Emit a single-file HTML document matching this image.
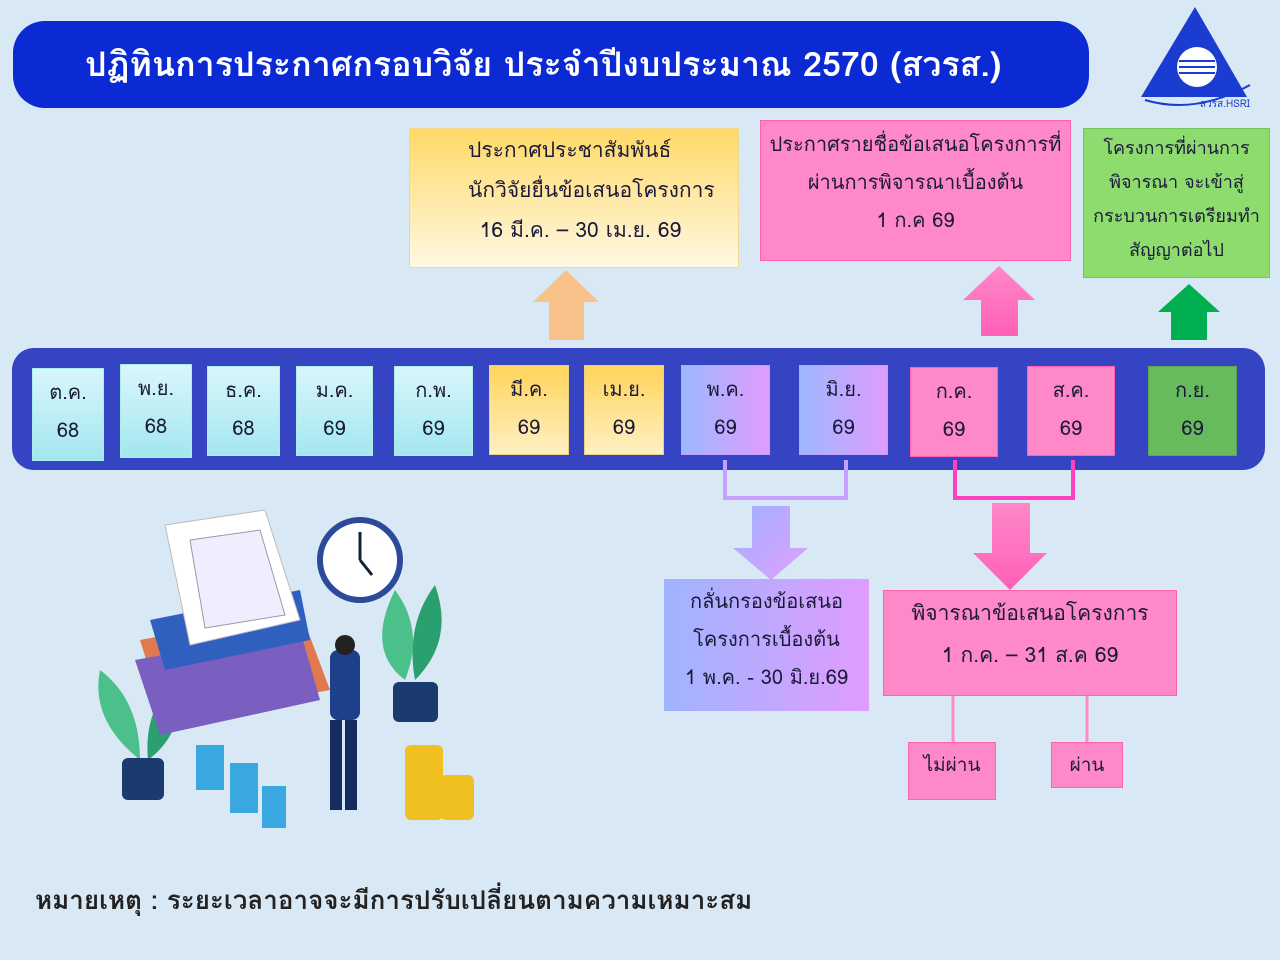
<!DOCTYPE html>
<html><head><meta charset="utf-8">
<style>
body{margin:0;width:1280px;height:960px;background:#d9e8f5;position:relative;overflow:hidden;font-family:"Tahoma","Garuda","Loma","Noto Sans Thai","DejaVu Sans","Liberation Sans",sans-serif;color:#1a1a3a}
.a{position:absolute}
.title{left:13px;top:21px;width:1076px;height:87px;background:#0c2ad4;border-radius:32px;color:#fff;font-size:34px;line-height:87px;box-sizing:border-box;padding-left:72px;font-weight:600}
.band{left:12px;top:348px;width:1253px;height:122px;background:#3544c2;border-radius:22px}
.m{position:absolute;text-align:center;font-size:20px;line-height:38px;padding-top:4px;box-sizing:border-box;border:1px solid #aee}
.cy{background:linear-gradient(#d8f7fb,#a4e6ef)}
.ye{background:linear-gradient(#ffd45a,#fff0c4);border-color:#f0d080}
.pu{background:linear-gradient(90deg,#9db8ff,#e09cff);border-color:#c0a0ff}
.pk{background:#ff88c8;border-color:#ff60b0}
.gr{background:#68bb5c;border-color:#5aa850}
.box{position:absolute;text-align:center;box-sizing:border-box}
</style></head><body>
<div class="a title">ปฏิทินการประกาศกรอบวิจัย ประจำปีงบประมาณ 2570 (สวรส.)</div>
<svg class="a" style="left:1135px;top:5px" width="120" height="110">
<polygon points="60,2 112,92 6,92" fill="#1a3cd0"/>
<circle cx="62" cy="62" r="20" fill="#fff"/>
<g stroke="#1a3cd0" stroke-width="2"><line x1="44" y1="56" x2="80" y2="56"/><line x1="44" y1="62" x2="80" y2="62"/><line x1="44" y1="68" x2="80" y2="68"/></g>
<path d="M10 95 Q60 110 115 80" stroke="#1a3cd0" fill="none" stroke-width="2"/>
<text x="65" y="102" font-size="10" fill="#1a3cd0">สวรส.HSRI</text>
</svg>

<div class="a band"></div>
<div class="m cy" style="left:32px;top:368px;width:72px;height:93px">ต.ค.<br>68</div>
<div class="m cy" style="left:120px;top:364px;width:72px;height:94px">พ.ย.<br>68</div>
<div class="m cy" style="left:207px;top:366px;width:73px;height:90px">ธ.ค.<br>68</div>
<div class="m cy" style="left:296px;top:366px;width:77px;height:90px">ม.ค.<br>69</div>
<div class="m cy" style="left:394px;top:366px;width:79px;height:90px">ก.พ.<br>69</div>
<div class="m ye" style="left:489px;top:365px;width:80px;height:90px">มี.ค.<br>69</div>
<div class="m ye" style="left:584px;top:365px;width:80px;height:90px">เม.ย.<br>69</div>
<div class="m pu" style="left:681px;top:365px;width:89px;height:90px">พ.ค.<br>69</div>
<div class="m pu" style="left:799px;top:365px;width:89px;height:90px">มิ.ย.<br>69</div>
<div class="m pk" style="left:910px;top:367px;width:88px;height:90px">ก.ค.<br>69</div>
<div class="m pk" style="left:1027px;top:366px;width:88px;height:90px">ส.ค.<br>69</div>
<div class="m gr" style="left:1148px;top:366px;width:89px;height:90px">ก.ย.<br>69</div>

<div class="box" style="left:409px;top:128px;width:330px;height:140px;background:linear-gradient(#ffd966,#fff8e4);border:1px solid #f0d890;font-size:21px;line-height:40px;padding-top:2px;text-align:left;padding-left:58px">ประกาศประชาสัมพันธ์<br>นักวิจัยยื่นข้อเสนอโครงการ<br>&nbsp;&nbsp;16 มี.ค. – 30 เม.ย. 69</div>
<div class="box" style="left:760px;top:120px;width:311px;height:141px;background:#ff88c8;border:1px solid #ff60b0;font-size:20px;line-height:38px;padding-top:4px">ประกาศรายชื่อข้อเสนอโครงการที่<br>ผ่านการพิจารณาเบื้องต้น<br>1 ก.ค 69</div>
<div class="box" style="left:1083px;top:128px;width:187px;height:150px;background:#8fdc6e;border:1px solid #70c860;font-size:18px;line-height:34px;padding-top:2px">โครงการที่ผ่านการ<br>พิจารณา จะเข้าสู่<br>กระบวนการเตรียมทำ<br>สัญญาต่อไป</div>

<svg class="a" style="left:0;top:0" width="1280" height="960">
<defs>
<linearGradient id="pd" x1="0" y1="0" x2="1" y2="1"><stop offset="0" stop-color="#a0b0ff"/><stop offset="1" stop-color="#e0a0ff"/></linearGradient>
<linearGradient id="kd" x1="0" y1="0" x2="0" y2="1"><stop offset="0" stop-color="#ff88c8"/><stop offset="1" stop-color="#ff60b8"/></linearGradient>
</defs>
<polygon points="566,270 599,302 584,302 584,340 549,340 549,302 533,302" fill="#f9c28a"/>
<polygon points="999,266 1035,300 1018,300 1018,336 981,336 981,300 963,300" fill="url(#kd)"/>
<polygon points="1189,284 1220,312 1207,312 1207,340 1171,340 1171,312 1158,312" fill="#00b050"/>
<polyline points="725,460 725,498 846,498 846,460" fill="none" stroke="#c7a0ff" stroke-width="4"/>
<polyline points="955,460 955,498 1073,498 1073,460" fill="none" stroke="#ff40c0" stroke-width="4"/>
<polygon points="752,506 790,506 790,548 808,548 771,580 733,548 752,548" fill="url(#pd)"/>
<polygon points="992,503 1030,503 1030,553 1047,553 1010,590 973,553 992,553" fill="url(#kd)"/>
<line x1="953" y1="696" x2="953" y2="742" stroke="#ff88c8" stroke-width="3"/>
<line x1="1087" y1="696" x2="1087" y2="742" stroke="#ff88c8" stroke-width="3"/>
<g>
<path d="M140 760 q-50-40-40-90 q40 30 40 90z" fill="#4cc08a"/>
<path d="M148 760 q40-30 30-85 q-35 35-30 85z" fill="#2aa070"/>
<rect x="122" y="758" width="42" height="42" rx="6" fill="#1a3a70"/>
<path d="M405 680 q-40-30-10-90 q30 40 10 90z" fill="#4cc08a"/>
<path d="M415 680 q40-40 20-95 q-30 40-20 95z" fill="#2aa070"/>
<rect x="393" y="682" width="45" height="40" rx="6" fill="#1a3a70"/>
<polygon points="140,640 300,610 330,690 165,720" fill="#e07850"/>
<polygon points="135,660 300,630 320,700 160,735" fill="#7a5fc0"/>
<polygon points="150,620 300,590 310,640 165,670" fill="#2f60c0"/>
<polygon points="165,525 265,510 300,620 190,645" fill="#fff" stroke="#bbb"/>
<polygon points="190,540 260,530 285,615 205,628" fill="#eef" stroke="#99a"/>
<circle cx="360" cy="560" r="40" fill="#fff" stroke="#2b4a9a" stroke-width="6"/>
<line x1="360" y1="560" x2="360" y2="532" stroke="#123" stroke-width="3"/>
<line x1="360" y1="560" x2="372" y2="575" stroke="#123" stroke-width="3"/>
<rect x="330" y="650" width="30" height="70" rx="8" fill="#1e3f8a"/>
<rect x="330" y="720" width="12" height="90" fill="#142c60"/>
<rect x="345" y="720" width="12" height="90" fill="#142c60"/>
<circle cx="345" cy="645" r="10" fill="#222"/>
<rect x="196" y="745" width="28" height="45" fill="#3aa8e0"/>
<rect x="230" y="763" width="28" height="50" fill="#3aa8e0"/>
<rect x="262" y="786" width="24" height="42" fill="#3aa8e0"/>
<rect x="405" y="745" width="38" height="75" rx="6" fill="#f0c020"/>
<rect x="440" y="775" width="34" height="45" rx="6" fill="#f0c020"/>
</g>
</svg>

<div class="box" style="left:664px;top:579px;width:205px;height:132px;background:linear-gradient(90deg,#9fb4ff,#e09cff);font-size:20px;line-height:38px;padding-top:3px">กลั่นกรองข้อเสนอ<br>โครงการเบื้องต้น<br>1 พ.ค. - 30 มิ.ย.69</div>
<div class="box" style="left:883px;top:590px;width:294px;height:106px;background:#ff88c8;border:1px solid #ff60b0;font-size:21px;line-height:42px;padding-top:2px">พิจารณาข้อเสนอโครงการ<br>1 ก.ค. – 31 ส.ค 69</div>
<div class="box" style="left:908px;top:742px;width:88px;height:58px;background:#ff88c8;border:1px solid #ff60b0;font-size:19px;line-height:44px">ไม่ผ่าน</div>
<div class="box" style="left:1051px;top:742px;width:72px;height:46px;background:#ff88c8;border:1px solid #ff60b0;font-size:19px;line-height:44px">ผ่าน</div>
<div class="a" style="left:35px;top:880px;font-size:26px;color:#222;font-weight:bold">หมายเหตุ : ระยะเวลาอาจจะมีการปรับเปลี่ยนตามความเหมาะสม</div>
</body></html>
